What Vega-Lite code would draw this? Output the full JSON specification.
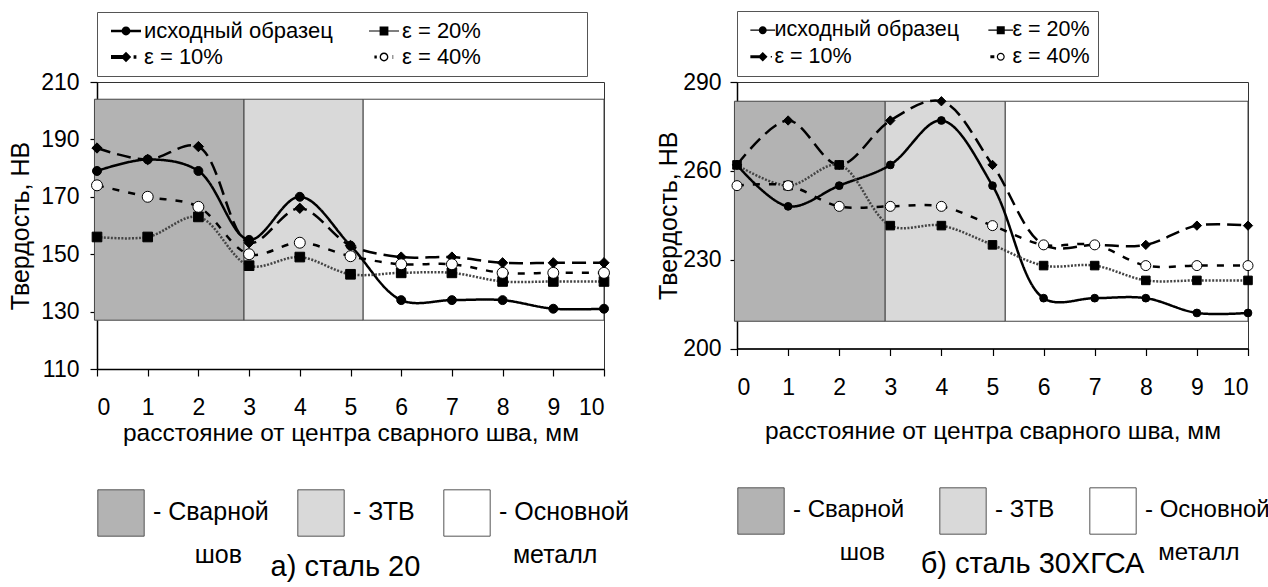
{
  "$schema": "https://vega.github.io/schema/vega-lite/v6.json",
  "background": "white",
  "padding": {"left": 8, "top": 10, "right": 5, "bottom": 5},
  "bounds": "flush",
  "spacing": 133,
  "config": {
    "font": "Liberation Sans",
    "view": {"stroke": "#333", "strokeWidth": 1},
    "axis": {
      "labelFont": "Liberation Sans", "labelFontSize": 23, "labelColor": "#000",
      "titleFont": "Liberation Sans", "titleFontSize": 25, "titleFontWeight": "normal", "titleColor": "#000",
      "domainColor": "#000", "domainWidth": 1.5, "tickColor": "#000", "tickWidth": 1.2, "tickSize": 7, "grid": false
    },
    "legend": {"labelFont": "Liberation Sans", "labelColor": "#000", "labelLimit": 600}
  },
  "datasets": {
    "s20": [
      {"series": "исходный образец", "x": 0, "hv": 179}, {"series": "исходный образец", "x": 1, "hv": 183}, {"series": "исходный образец", "x": 2, "hv": 179}, {"series": "исходный образец", "x": 3, "hv": 155}, {"series": "исходный образец", "x": 4, "hv": 170}, {"series": "исходный образец", "x": 5, "hv": 153}, {"series": "исходный образец", "x": 6, "hv": 134}, {"series": "исходный образец", "x": 7, "hv": 134}, {"series": "исходный образец", "x": 8, "hv": 134}, {"series": "исходный образец", "x": 9, "hv": 131}, {"series": "исходный образец", "x": 10, "hv": 131},
      {"series": "ε = 10%", "x": 0, "hv": 187}, {"series": "ε = 10%", "x": 1, "hv": 183}, {"series": "ε = 10%", "x": 2, "hv": 187.5}, {"series": "ε = 10%", "x": 3, "hv": 154}, {"series": "ε = 10%", "x": 4, "hv": 166}, {"series": "ε = 10%", "x": 5, "hv": 153}, {"series": "ε = 10%", "x": 6, "hv": 149}, {"series": "ε = 10%", "x": 7, "hv": 149}, {"series": "ε = 10%", "x": 8, "hv": 147}, {"series": "ε = 10%", "x": 9, "hv": 147}, {"series": "ε = 10%", "x": 10, "hv": 147},
      {"series": "ε = 20%", "x": 0, "hv": 156}, {"series": "ε = 20%", "x": 1, "hv": 156}, {"series": "ε = 20%", "x": 2, "hv": 163}, {"series": "ε = 20%", "x": 3, "hv": 146}, {"series": "ε = 20%", "x": 4, "hv": 149}, {"series": "ε = 20%", "x": 5, "hv": 143}, {"series": "ε = 20%", "x": 6, "hv": 143.5}, {"series": "ε = 20%", "x": 7, "hv": 143.5}, {"series": "ε = 20%", "x": 8, "hv": 140.5}, {"series": "ε = 20%", "x": 9, "hv": 140.5}, {"series": "ε = 20%", "x": 10, "hv": 140.5},
      {"series": "ε = 40%", "x": 0, "hv": 174}, {"series": "ε = 40%", "x": 1, "hv": 170}, {"series": "ε = 40%", "x": 2, "hv": 166.5}, {"series": "ε = 40%", "x": 3, "hv": 150}, {"series": "ε = 40%", "x": 4, "hv": 154}, {"series": "ε = 40%", "x": 5, "hv": 149.3}, {"series": "ε = 40%", "x": 6, "hv": 146.5}, {"series": "ε = 40%", "x": 7, "hv": 146.5}, {"series": "ε = 40%", "x": 8, "hv": 143.5}, {"series": "ε = 40%", "x": 9, "hv": 143.5}, {"series": "ε = 40%", "x": 10, "hv": 143.5}
    ],
    "s30": [
      {"series": "исходный образец", "x": 0, "hv": 262}, {"series": "исходный образец", "x": 1, "hv": 248}, {"series": "исходный образец", "x": 2, "hv": 255}, {"series": "исходный образец", "x": 3, "hv": 262}, {"series": "исходный образец", "x": 4, "hv": 277}, {"series": "исходный образец", "x": 5, "hv": 255}, {"series": "исходный образец", "x": 6, "hv": 217}, {"series": "исходный образец", "x": 7, "hv": 217}, {"series": "исходный образец", "x": 8, "hv": 217}, {"series": "исходный образец", "x": 9, "hv": 212}, {"series": "исходный образец", "x": 10, "hv": 212},
      {"series": "ε = 10%", "x": 0, "hv": 262}, {"series": "ε = 10%", "x": 1, "hv": 277}, {"series": "ε = 10%", "x": 2, "hv": 262}, {"series": "ε = 10%", "x": 3, "hv": 277}, {"series": "ε = 10%", "x": 4, "hv": 283.5}, {"series": "ε = 10%", "x": 5, "hv": 262}, {"series": "ε = 10%", "x": 6, "hv": 235}, {"series": "ε = 10%", "x": 7, "hv": 235}, {"series": "ε = 10%", "x": 8, "hv": 235}, {"series": "ε = 10%", "x": 9, "hv": 241.5}, {"series": "ε = 10%", "x": 10, "hv": 241.5},
      {"series": "ε = 20%", "x": 0, "hv": 262}, {"series": "ε = 20%", "x": 1, "hv": 255}, {"series": "ε = 20%", "x": 2, "hv": 262}, {"series": "ε = 20%", "x": 3, "hv": 241.5}, {"series": "ε = 20%", "x": 4, "hv": 241.5}, {"series": "ε = 20%", "x": 5, "hv": 235}, {"series": "ε = 20%", "x": 6, "hv": 228}, {"series": "ε = 20%", "x": 7, "hv": 228}, {"series": "ε = 20%", "x": 8, "hv": 223}, {"series": "ε = 20%", "x": 9, "hv": 223}, {"series": "ε = 20%", "x": 10, "hv": 223},
      {"series": "ε = 40%", "x": 0, "hv": 255}, {"series": "ε = 40%", "x": 1, "hv": 255}, {"series": "ε = 40%", "x": 2, "hv": 248}, {"series": "ε = 40%", "x": 3, "hv": 248}, {"series": "ε = 40%", "x": 4, "hv": 248}, {"series": "ε = 40%", "x": 5, "hv": 241.5}, {"series": "ε = 40%", "x": 6, "hv": 235}, {"series": "ε = 40%", "x": 7, "hv": 235}, {"series": "ε = 40%", "x": 8, "hv": 228}, {"series": "ε = 40%", "x": 9, "hv": 228}, {"series": "ε = 40%", "x": 10, "hv": 228}
    ],
    "z20": [
      {"zone": "Сварной шов", "x0": -0.05, "x1": 2.9, "y0": 127, "y1": 204},
      {"zone": "ЗТВ", "x0": 2.9, "x1": 5.25, "y0": 127, "y1": 204},
      {"zone": "Основной металл", "x0": 5.25, "x1": 10, "y0": 127, "y1": 204}
    ],
    "z30": [
      {"zone": "Сварной шов", "x0": -0.05, "x1": 2.9, "y0": 209.2, "y1": 283.5},
      {"zone": "ЗТВ", "x0": 2.9, "x1": 5.25, "y0": 209.2, "y1": 283.5},
      {"zone": "Основной металл", "x0": 5.25, "x1": 10, "y0": 209.2, "y1": 283.5}
    ]
  },
  "hconcat": [
    {
      "width": 507,
      "height": 287,
      "title": {"text": "а) сталь 20", "orient": "bottom", "frame": "group", "offset": -15, "dx": -5, "font": "Liberation Sans", "fontSize": 29, "fontWeight": "normal", "color": "#000"},
      "resolve": {"scale": {"fill": "independent", "shape": "independent", "size": "independent"}},
      "layer": [
        {
          "data": {"name": "z20"},
          "mark": {"type": "rect", "stroke": "#444", "strokeWidth": 1},
          "encoding": {
            "x": {"field": "x0", "type": "quantitative", "scale": {"domain": [0, 10], "nice": false},
              "axis": {"values": [0,1,2,3,4,5,6,7,8,9,10], "title": "расстояние от центра сварного шва, мм", "titleFontSize": 24.5, "labelPadding": 20, "titlePadding": 2}},
            "x2": {"field": "x1"},
            "y": {"field": "y0", "type": "quantitative", "scale": {"domain": [110, 210], "nice": false, "zero": false},
              "axis": {"values": [110,130,150,170,190,210], "title": "Твердость, НВ", "labelPadding": 11, "titlePadding": 7}},
            "y2": {"field": "y1"},
            "fill": {"field": "zone", "type": "nominal",
              "scale": {"domain": ["Сварной шов", "ЗТВ", "Основной металл"], "range": ["#b3b3b3", "#d9d9d9", "#ffffff"]},
              "legend": {"orient": "bottom", "direction": "horizontal", "title": null, "symbolType": "square", "symbolSize": 2150,
                "symbolStrokeColor": "#555", "symbolStrokeWidth": 1, "labelFontSize": 25, "labelOffset": 8, "columnPadding": 26, "offset": 44,
                "labelBaseline": "top",
                "labelExpr": "datum.label == 'Сварной шов' ? ['- Сварной', '\u200b\u00a0\u00a0\u00a0\u00a0\u00a0\u00a0шов'] : datum.label == 'ЗТВ' ? ['- ЗТВ', '\u200b'] : ['- Основной', '\u200b\u00a0\u00a0металл']",
                "encode": {"labels": {"update": {"lineHeight": {"value": 43}, "dy": {"value": -13}}}}}}
          }
        },
        {
          "data": {"name": "s20"},
          "mark": {"type": "line", "interpolate": "catmull-rom"},
          "encoding": {
            "x": {"field": "x", "type": "quantitative"},
            "y": {"field": "hv", "type": "quantitative"},
            "detail": {"field": "series"},
            "stroke": {"field": "series", "type": "nominal", "scale": {"domain": ["исходный образец", "ε = 20%", "ε = 10%", "ε = 40%"], "range": ["#000", "#444", "#000", "#000"]}, "legend": null},
            "strokeDash": {"field": "series", "type": "nominal", "scale": {"domain": ["исходный образец", "ε = 20%", "ε = 10%", "ε = 40%"], "range": [[1, 0], [2, 1.5], [14, 7], [7, 9]]}, "legend": null},
            "strokeWidth": {"field": "series", "type": "ordinal", "scale": {"domain": ["исходный образец", "ε = 20%", "ε = 10%", "ε = 40%"], "range": [2.5, 2.5, 3, 3.5]}, "legend": null}
          }
        },
        {
          "data": {"name": "s20"},
          "mark": {"type": "point", "filled": true, "stroke": "#000", "strokeWidth": 1, "opacity": 1},
          "encoding": {
            "x": {"field": "x", "type": "quantitative"},
            "y": {"field": "hv", "type": "quantitative"},
            "shape": {"field": "series", "type": "nominal", "scale": {"domain": ["исходный образец", "ε = 20%", "ε = 10%", "ε = 40%"], "range": ["circle", "square", "diamond", "circle"]}, "legend": null},
            "fill": {"field": "series", "type": "nominal", "scale": {"domain": ["исходный образец", "ε = 20%", "ε = 10%", "ε = 40%"], "range": ["#000", "#000", "#000", "#fff"]}, "legend": null},
            "size": {"field": "series", "type": "ordinal", "scale": {"domain": ["исходный образец", "ε = 20%", "ε = 10%", "ε = 40%"], "range": [80, 120, 90, 80]}, "legend": null}
          }
        },
        {
          "data": {"name": "s20"},
          "transform": [{"filter": "datum.hv < 0"}],
          "mark": {"type": "point", "filled": true, "color": "#000", "opacity": 1},
          "encoding": {
            "x": {"field": "x", "type": "quantitative"},
            "y": {"field": "hv", "type": "quantitative"},
            "shape": {"field": "series", "type": "nominal",
              "scale": {"domain": ["исходный образец", "ε = 20%", "ε = 10%", "ε = 40%"],
                "range": [
                  "M-3.75,-0.3H3.75V0.3H-3.75Z M1.1,0A1.1,1.1,0,1,1,-1.1,0A1.1,1.1,0,1,1,1.1,0Z",
                  "M-3.75,-0.15H3.75V0.15H-3.75Z M-1.1,-1.1H1.1V1.1H-1.1Z",
                  "M-3.75,-0.5H0V0.5H-3.75Z M0,-1.3L1.3,0L0,1.3L-1.3,0Z M1.9,-0.45H2.6V0.45H1.9Z",
                  "M-2.4,-0.4H-1.8V0.4H-2.4Z M1.1,0A1.1,1.1,0,1,1,-1.1,0A1.1,1.1,0,1,1,1.1,0Z M0.75,0A0.75,0.75,0,1,0,-0.75,0A0.75,0.75,0,1,0,0.75,0Z M2.15,-0.5H2.3V0.5H2.15Z"
                ]},
              "legend": {"orient": "top", "title": null, "columns": 2, "symbolSize": 64, "symbolStrokeWidth": 0,
                "symbolOffset": 10, "labelOffset": 7, "columnPadding": 30, "rowPadding": 4, "padding": 8,
                "strokeColor": "#555", "labelFontSize": 22, "offset": 6,
                "labelExpr": "datum.label == 'ε = 20%' || datum.label == 'ε = 40%' ? datum.label + '\u00a0\u00a0\u00a0\u00a0\u00a0\u00a0\u00a0\u00a0\u00a0\u00a0\u00a0\u00a0\u00a0\u00a0\u00a0\u00a0\u200b' : datum.label"}
            }
          }
        }
      ]
    },
    {
      "width": 511,
      "height": 266.5,
      "title": {"text": "б) сталь 30ХГСА", "orient": "bottom", "frame": "group", "offset": -15, "dx": 40, "font": "Liberation Sans", "fontSize": 29, "fontWeight": "normal", "color": "#000"},
      "resolve": {"scale": {"fill": "independent", "shape": "independent", "size": "independent"}},
      "layer": [
        {
          "data": {"name": "z30"},
          "mark": {"type": "rect", "stroke": "#444", "strokeWidth": 1},
          "encoding": {
            "x": {"field": "x0", "type": "quantitative", "scale": {"domain": [0, 10], "nice": false},
              "axis": {"values": [0,1,2,3,4,5,6,7,8,9,10], "title": "расстояние от центра сварного шва, мм", "titleFontSize": 24.5, "labelPadding": 21, "titlePadding": 20}},
            "x2": {"field": "x1"},
            "y": {"field": "y0", "type": "quantitative", "scale": {"domain": [200, 290], "nice": false, "zero": false},
              "axis": {"values": [200,230,260,290], "title": "Твердость, НВ", "labelPadding": 9, "titlePadding": 1}},
            "y2": {"field": "y1"},
            "fill": {"field": "zone", "type": "nominal",
              "scale": {"domain": ["Сварной шов", "ЗТВ", "Основной металл"], "range": ["#b3b3b3", "#d9d9d9", "#ffffff"]},
              "legend": {"orient": "bottom", "direction": "horizontal", "title": null, "symbolType": "square", "symbolSize": 2150,
                "symbolStrokeColor": "#555", "symbolStrokeWidth": 1, "labelFontSize": 24, "labelOffset": 8, "columnPadding": 32, "offset": 44,
                "labelBaseline": "top",
                "labelExpr": "datum.label == 'Сварной шов' ? ['- Сварной', '\u200b\u00a0\u00a0\u00a0\u00a0\u00a0\u00a0\u00a0шов'] : datum.label == 'ЗТВ' ? ['- ЗТВ', '\u200b'] : ['- Основной', '\u200b\u00a0\u00a0металл']",
                "encode": {"labels": {"update": {"lineHeight": {"value": 43}, "dy": {"value": -13}}}}}}
          }
        },
        {
          "data": {"name": "s30"},
          "mark": {"type": "line", "interpolate": "catmull-rom"},
          "encoding": {
            "x": {"field": "x", "type": "quantitative"},
            "y": {"field": "hv", "type": "quantitative"},
            "detail": {"field": "series"},
            "stroke": {"field": "series", "type": "nominal", "scale": {"domain": ["исходный образец", "ε = 20%", "ε = 10%", "ε = 40%"], "range": ["#000", "#444", "#000", "#000"]}, "legend": null},
            "strokeDash": {"field": "series", "type": "nominal", "scale": {"domain": ["исходный образец", "ε = 20%", "ε = 10%", "ε = 40%"], "range": [[1, 0], [2, 1.5], [16, 12], [7, 10]]}, "legend": null},
            "strokeWidth": {"field": "series", "type": "ordinal", "scale": {"domain": ["исходный образец", "ε = 20%", "ε = 10%", "ε = 40%"], "range": [1, 2.5, 3, 3]}, "legend": null}
          }
        },
        {
          "data": {"name": "s30"},
          "mark": {"type": "point", "filled": true, "stroke": "#000", "strokeWidth": 1, "opacity": 1},
          "encoding": {
            "x": {"field": "x", "type": "quantitative"},
            "y": {"field": "hv", "type": "quantitative"},
            "shape": {"field": "series", "type": "nominal", "scale": {"domain": ["исходный образец", "ε = 20%", "ε = 10%", "ε = 40%"], "range": ["circle", "square", "diamond", "circle"]}, "legend": null},
            "fill": {"field": "series", "type": "nominal", "scale": {"domain": ["исходный образец", "ε = 20%", "ε = 10%", "ε = 40%"], "range": ["#000", "#000", "#000", "#fff"]}, "legend": null},
            "size": {"field": "series", "type": "ordinal", "scale": {"domain": ["исходный образец", "ε = 20%", "ε = 10%", "ε = 40%"], "range": [60, 100, 80, 60]}, "legend": null}
          }
        },
        {
          "data": {"name": "s30"},
          "transform": [{"filter": "datum.hv < 0"}],
          "mark": {"type": "point", "filled": true, "color": "#000", "opacity": 1},
          "encoding": {
            "x": {"field": "x", "type": "quantitative"},
            "y": {"field": "hv", "type": "quantitative"},
            "shape": {"field": "series", "type": "nominal",
              "scale": {"domain": ["исходный образец", "ε = 20%", "ε = 10%", "ε = 40%"],
                "range": [
                  "M-3.1,-0.15H3.1V0.15H-3.1Z M1,0A1,1,0,1,1,-1,0A1,1,0,1,1,1,0Z",
                  "M-3.1,-0.15H3.1V0.15H-3.1Z M-1,-1H1V1H-1Z",
                  "M-3.1,-0.4H0V0.4H-3.1Z M0,-1.2L1.2,0L0,1.2L-1.2,0Z M2,-0.2H2.3V0.2H2Z",
                  "M-2.6,-0.35H-1.6V0.35H-2.6Z M1,0A1,1,0,1,1,-1,0A1,1,0,1,1,1,0Z M0.7,0A0.7,0.7,0,1,0,-0.7,0A0.7,0.7,0,1,0,0.7,0Z"
                ]},
              "legend": {"orient": "top", "title": null, "columns": 2, "symbolSize": 64, "symbolStrokeWidth": 0,
                "symbolOffset": 7, "labelOffset": 1, "columnPadding": 24, "rowPadding": 4, "padding": 8,
                "strokeColor": "#555", "labelFontSize": 21.5, "offset": 6}
            }
          }
        }
      ]
    }
  ]
}
